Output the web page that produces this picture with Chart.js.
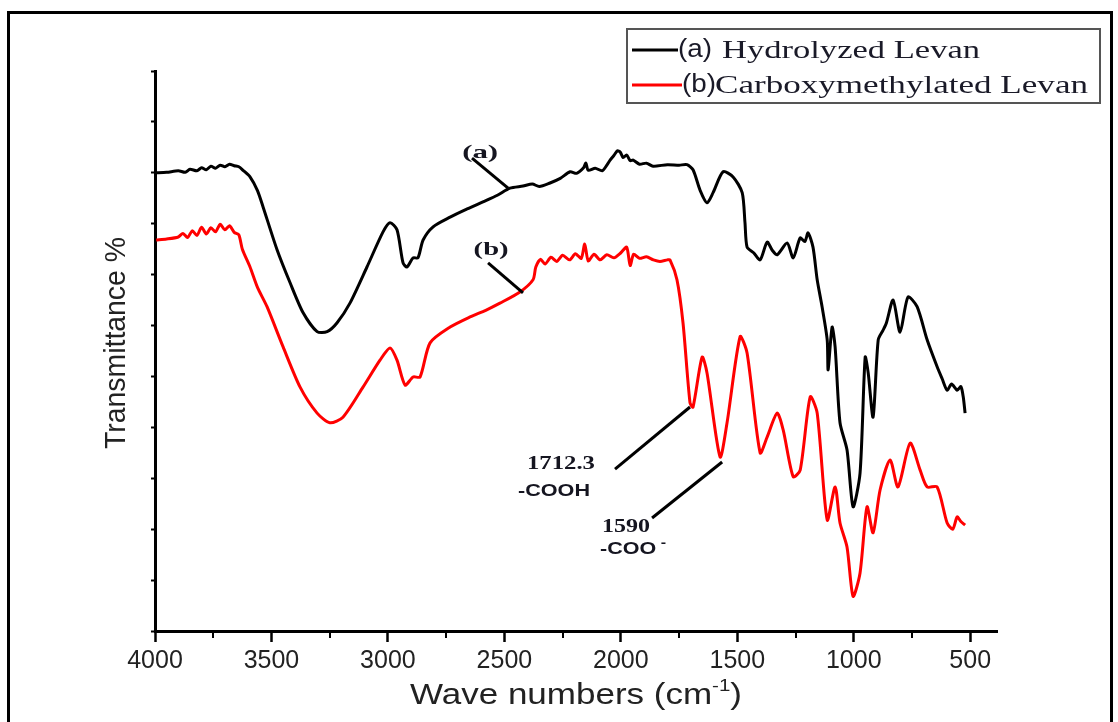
<!DOCTYPE html>
<html>
<head>
<meta charset="utf-8">
<script src="https://cdn.jsdelivr.net/npm/chart.js@4.4.1/dist/chart.umd.min.js"></script>
<style>
  html, body { margin: 0; padding: 0; background: #fff; }
  #c { display: block; }
</style>
</head>
<body>
<canvas id="c" width="1118" height="722"></canvas>
<script>
// (a) Hydrolyzed Levan
var waveA = [4000, 3950, 3900, 3870, 3850, 3820, 3800, 3780, 3760, 3740, 3720, 3700, 3680, 3660, 3640, 3622, 3592, 3560, 3536, 3476,
  3420, 3364, 3304, 3261, 3219, 3163, 3090, 3021, 2991, 2961, 2935, 2918, 2892, 2871, 2849, 2806, 2733, 2660, 2592, 2530,
  2476, 2420, 2380, 2350, 2304, 2260, 2218, 2190, 2160, 2150, 2140, 2110, 2080, 2060, 2046, 2030, 2015, 2003, 1990, 1975,
  1960, 1947, 1920, 1890, 1862, 1800, 1750, 1716, 1690, 1660, 1630, 1604, 1561, 1518, 1479, 1467, 1458, 1430, 1402, 1372,
  1350, 1329, 1286, 1260, 1230, 1210, 1196, 1175, 1157, 1136, 1114, 1110, 1093, 1080, 1059, 1029, 1003, 973, 951, 938,
  917, 895, 874, 860, 831, 801, 767, 728, 685, 642, 620, 599, 580, 556, 540, 530, 522];
var transA = [90.0, 90.1, 90.4, 90.1, 90.7, 90.4, 91.0, 90.6, 91.3, 90.9, 91.5, 91.2, 91.7, 91.4, 91.2, 90.5, 89.2, 86.5, 83.3, 74.9,
  68.4, 62.5, 58.8, 58.8, 60.5, 64.4, 71.5, 78.4, 80.2, 78.8, 72.3, 71.5, 73.3, 73.3, 76.8, 79.4, 81.3, 82.9, 84.3, 85.6,
  87.0, 87.4, 87.8, 87.3, 88.0, 88.9, 90.2, 89.9, 91.0, 91.9, 90.5, 90.9, 90.4, 91.5, 92.5, 93.4, 94.3, 94.1, 93.0, 93.5,
  92.4, 92.5, 91.7, 91.9, 91.3, 91.6, 91.5, 91.6, 90.6, 86.6, 84.1, 86.1, 90.2, 89.2, 86.1, 80.2, 75.4, 74.3, 72.9, 76.4,
  74.8, 73.9, 76.2, 73.3, 77.2, 76.5, 78.2, 75.4, 69.0, 63.7, 57.2, 51.3, 59.7, 55.8, 40.9, 35.6, 24.4, 31.0, 53.8, 50.7,
  42.0, 57.2, 59.1, 60.5, 65.0, 58.7, 65.6, 63.7, 57.2, 51.9, 49.5, 47.3, 48.5, 47.3, 48.0, 46.0, 42.8];

// (b) Carboxymethylated Levan
var waveB = [3995, 3950, 3900, 3880, 3860, 3840, 3820, 3800, 3780, 3760, 3740, 3720, 3700, 3680, 3660, 3640, 3625, 3592, 3560, 3519,
  3450, 3377, 3304, 3249, 3193, 3107, 3034, 2991, 2961, 2926, 2892, 2862, 2819, 2733, 2647, 2580, 2519, 2433, 2377, 2365,
  2345, 2325, 2300, 2275, 2250, 2220, 2195, 2170, 2155, 2140, 2115, 2089, 2060, 2030, 2000, 1975, 1960, 1945, 1920, 1890,
  1860, 1832, 1800, 1789, 1759, 1733, 1703, 1690, 1651, 1630, 1574, 1544, 1488, 1458, 1402, 1372, 1329, 1303, 1260, 1230,
  1187, 1157, 1114, 1080, 1059, 1029, 1003, 973, 943, 917, 887, 844, 810, 758, 715, 685, 642, 599, 575, 556,
  540, 522];
var transB = [76.8, 77.0, 77.4, 78.1, 77.3, 78.6, 77.7, 79.3, 78.0, 79.2, 78.4, 79.9, 78.8, 79.6, 78.3, 77.8, 75.0, 71.5, 67.5, 63.7,
  55.8, 47.9, 42.8, 40.9, 42.0, 47.9, 53.2, 55.6, 53.2, 48.3, 49.9, 49.9, 56.6, 59.7, 61.7, 63.0, 64.4, 66.6, 69.0, 71.5,
  73.0, 72.1, 73.4, 72.6, 73.8, 72.9, 74.1, 73.2, 76.0, 72.7, 74.0, 72.9, 73.9, 73.3, 74.3, 75.4, 71.8, 74.0, 73.2, 73.5,
  72.9, 72.6, 72.9, 72.9, 69.0, 60.5, 44.8, 44.0, 53.8, 50.7, 34.2, 40.9, 57.8, 54.6, 35.0, 38.1, 42.8, 39.5, 30.3, 31.6,
  46.0, 42.8, 21.8, 28.3, 21.2, 16.5, 6.8, 11.4, 24.4, 19.3, 27.7, 33.6, 28.3, 36.9, 31.6, 28.3, 28.3, 21.2, 20.0, 22.4,
  21.5, 20.8];

var seriesNames = ['Hydrolyzed Levan', 'Carboxymethylated Levan'];
var seriesTags = ['(a)', '(b)'];
var seriesColors = ['#000000', '#ff0000'];

var xTicks = [4000, 3500, 3000, 2500, 2000, 1500, 1000, 500];
var xMinor = [3750, 3250, 2750, 2250, 1750, 1250, 750];
var yTicks = [0, 10, 20, 30, 40, 50, 60, 70, 80, 90, 100, 110];

// annotation labels and leader lines, in data units (wavenumber, transmittance)
var noteLabels = [
  { text: '(a)', x: 2604, y: 93.9 },
  { text: '(b)', x: 2557, y: 74.9 },
  { text: '1712.3', x: 2257, y: 32.8 },
  { text: '1590', x: 1978, y: 20.4 }
];
var noteGroups = [
  { text: '-COOH', x: 2287, y: 27.3 },
  { text: '-COO', x: 2089, y: 15.9 }
];
var leaders = [
  [2639, 92.9, 2484, 87.0],
  [2570, 72.3, 2420, 66.4],
  [2025, 31.8, 1703, 44.0],
  [1866, 22.2, 1565, 33.2]
];

function pts(xs, ys) {
  var out = [];
  for (var i = 0; i < xs.length; i++) out.push({ x: xs[i], y: ys[i] });
  return out;
}

// draw a list of text runs, stretched horizontally to width w
function drawRuns(ctx, runs, x, y, w, align) {
  var total = 0;
  runs.forEach(function (r) { ctx.font = r.font; r.w = ctx.measureText(r.t).width; total += r.w; });
  var sx = w ? w / total : 1;
  var start = align === 'center' ? x - total * sx / 2 : (align === 'right' ? x - total * sx : x);
  ctx.save();
  ctx.translate(start, y);
  ctx.scale(sx, 1);
  ctx.textAlign = 'left';
  ctx.textBaseline = 'middle';
  var cur = 0;
  runs.forEach(function (r) {
    ctx.font = r.font;
    ctx.fillText(r.t, cur, r.dy || 0);
    cur += r.w;
  });
  ctx.restore();
}

var SANS = '"Liberation Sans", Arial, sans-serif';
var SERIF = '"Liberation Serif", "Times New Roman", serif';

var decor = {
  id: 'decor',
  beforeDraw: function (chart) {
    var ctx = chart.ctx;
    ctx.save();
    ctx.fillStyle = '#fff';
    ctx.fillRect(0, 0, chart.width, chart.height);
    ctx.restore();
  },
  afterDraw: function (chart) {
    var ctx = chart.ctx;
    var xs = chart.scales.x, ys = chart.scales.y;
    ctx.save();

    // minor ticks on x axis
    ctx.strokeStyle = '#000';
    ctx.lineWidth = 2;
    xMinor.forEach(function (v) {
      var px = Math.round(xs.getPixelForValue(v));
      ctx.beginPath();
      ctx.moveTo(px, ys.bottom);
      ctx.lineTo(px, ys.bottom + 7);
      ctx.stroke();
    });

    // leader lines
    ctx.strokeStyle = '#000';
    ctx.lineWidth = 3;
    leaders.forEach(function (l) {
      ctx.beginPath();
      ctx.moveTo(xs.getPixelForValue(l[0]), ys.getPixelForValue(l[1]));
      ctx.lineTo(xs.getPixelForValue(l[2]), ys.getPixelForValue(l[3]));
      ctx.stroke();
    });

    // annotation text
    ctx.fillStyle = '#151520';
    var lw = { '(a)': 36, '(b)': 35, '1712.3': 68, '1590': 48 };
    noteLabels.forEach(function (n) {
      drawRuns(ctx, [{ t: n.text, font: 'bold 19px ' + SERIF }], xs.getPixelForValue(n.x), ys.getPixelForValue(n.y), lw[n.text], 'center');
    });
    drawRuns(ctx, [{ t: noteGroups[0].text, font: 'bold 16px ' + SANS }],
      xs.getPixelForValue(noteGroups[0].x), ys.getPixelForValue(noteGroups[0].y), 72, 'center');
    drawRuns(ctx, [{ t: noteGroups[1].text, font: 'bold 16px ' + SANS }, { t: ' -', font: 'bold 12px ' + SANS, dy: -6 }],
      xs.getPixelForValue(noteGroups[1].x), ys.getPixelForValue(noteGroups[1].y), 66, 'left');

    // axis titles
    ctx.fillStyle = '#222';
    drawRuns(ctx, [
      { t: 'Wave numbers (cm', font: '29px ' + SANS },
      { t: '-1', font: '17px ' + SANS, dy: -10 },
      { t: ')', font: '29px ' + SANS }
    ], 576, 696, 332, 'center');
    ctx.save();
    ctx.translate(117, 343);
    ctx.rotate(-Math.PI / 2);
    drawRuns(ctx, [{ t: 'Transmittance %', font: '29px ' + SANS }], 0, 0, 212, 'center');
    ctx.restore();

    // legend
    ctx.strokeStyle = '#555';
    ctx.lineWidth = 2;
    ctx.strokeRect(627, 29, 473, 74);
    var rows = [50, 85];
    var lineEnd = [678, 682];
    var tagW = [34, 34];
    var nameX = [722, 715];
    var nameW = [258, 373];
    for (var i = 0; i < 2; i++) {
      ctx.strokeStyle = seriesColors[i];
      ctx.lineWidth = 3;
      ctx.beginPath();
      ctx.moveTo(632, rows[i]);
      ctx.lineTo(lineEnd[i], rows[i]);
      ctx.stroke();
      ctx.fillStyle = '#1a1a28';
      drawRuns(ctx, [{ t: seriesTags[i], font: '25px ' + SANS }], lineEnd[i], rows[i], tagW[i], 'left');
      drawRuns(ctx, [{ t: seriesNames[i], font: '26px ' + SERIF }], nameX[i], rows[i] + 1, nameW[i], 'left');
    }

    // outer frame
    ctx.strokeStyle = '#000';
    ctx.lineWidth = 3;
    ctx.strokeRect(8.5, 12.5, 1103, 730);
    ctx.restore();
  }
};

new Chart(document.getElementById('c'), {
  type: 'line',
  data: {
    datasets: [
      { label: seriesTags[0] + ' ' + seriesNames[0], data: pts(waveA, transA), borderColor: seriesColors[0], borderWidth: 3, pointRadius: 0, tension: 0.25, borderJoinStyle: 'round' },
      { label: seriesTags[1] + seriesNames[1], data: pts(waveB, transB), borderColor: seriesColors[1], borderWidth: 3, pointRadius: 0, tension: 0.25, borderJoinStyle: 'round' }
    ]
  },
  options: {
    responsive: false,
    animation: false,
    devicePixelRatio: 1,
    layout: { padding: { left: 0, right: 121, top: 71, bottom: 0 } },
    plugins: { legend: { display: false }, tooltip: { enabled: false } },
    scales: {
      x: {
        type: 'linear',
        reverse: true,
        min: 385,
        max: 4000,
        afterFit: function (s) { s.height = 91; },
        afterBuildTicks: function (s) { s.ticks = xTicks.map(function (v) { return { value: v }; }); },
        grid: { drawOnChartArea: false, drawTicks: true, tickLength: 11, tickWidth: 2.5, tickColor: '#000' },
        border: { display: true, color: '#000', width: 3 },
        ticks: {
          color: '#222', padding: 4, maxRotation: 0, autoSkip: false, font: { family: SANS, size: 25 },
          callback: function (v) { return String(v); }
        }
      },
      y: {
        min: 0,
        max: 110,
        afterFit: function (s) { s.width = 155; },
        afterBuildTicks: function (s) { s.ticks = yTicks.map(function (v) { return { value: v }; }); },
        grid: { drawOnChartArea: false, drawTicks: true, tickLength: 4, tickWidth: 2, tickColor: '#000' },
        border: { display: true, color: '#000', width: 3 },
        ticks: { callback: function () { return ''; } }
      }
    }
  },
  plugins: [decor]
});
</script>
</body>
</html>
